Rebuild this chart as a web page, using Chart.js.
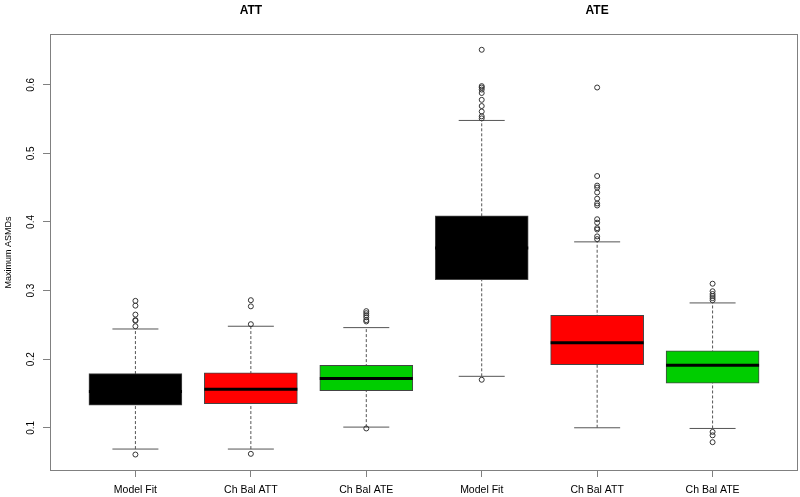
<!DOCTYPE html>
<html>
<head>
<meta charset="utf-8">
<script src="https://cdn.jsdelivr.net/npm/chart.js@4.4.0/dist/chart.umd.min.js"></script>
<style>
  body { margin: 0; background: #fff; }
  canvas { display: block; }
</style>
</head>
<body>
<canvas id="boxChart" width="800" height="497"></canvas>
<script>
// data
const categories = ["Model Fit", "Ch Bal ATT", "Ch Bal ATE", "Model Fit", "Ch Bal ATT", "Ch Bal ATE"];
const boxPos = [1, 2, 3, 4, 5, 6];
const groupTitles = ["ATT", "ATE"];
const groupPos = [2, 5];
const yTicks = [0.1, 0.2, 0.3, 0.4, 0.5, 0.6];

const q1 = [0.133, 0.135, 0.154, 0.316, 0.192, 0.165];
const median = [0.153, 0.156, 0.172, 0.362, 0.224, 0.191];
const q3 = [0.179, 0.180, 0.191, 0.409, 0.264, 0.212];
const whiskerLow = [0.069, 0.069, 0.101, 0.175, 0.100, 0.099];
const whiskerHigh = [0.244, 0.248, 0.246, 0.548, 0.371, 0.282];
const outliers = [
  [0.285, 0.278, 0.265, 0.257, 0.256, 0.248, 0.061],
  [0.286, 0.277, 0.251, 0.062],
  [0.270, 0.267, 0.264, 0.261, 0.257, 0.255, 0.099],
  [0.651, 0.598, 0.596, 0.593, 0.588, 0.578, 0.569, 0.561, 0.554, 0.551, 0.170],
  [0.596, 0.467, 0.453, 0.450, 0.443, 0.434, 0.427, 0.424, 0.404, 0.399, 0.391, 0.389, 0.379, 0.375],
  [0.310, 0.299, 0.295, 0.292, 0.289, 0.286, 0.094, 0.089, 0.079],
];

const boxColors = ["#000000", "#ff0000", "#00cd00", "#000000", "#ff0000", "#00cd00"];
const police = "'Liberation Sans', Arial, sans-serif";
const gris = "#808080";

// build the datasets
const boites = boxPos.map((x, i) => ({ x: x, y: [q1[i], q3[i]] }));
const medianes = boxPos.map((x, i) => ({ x: x, y: median[i] }));
const moustaches = [];
const extremites = [];
for (var i = 0; i < boxPos.length; i++) {
  moustaches.push({ x: boxPos[i], y: whiskerLow[i] });
  moustaches.push({ x: boxPos[i], y: whiskerHigh[i] });
  moustaches.push({ x: boxPos[i], y: null });
  extremites.push({ x: boxPos[i], y: whiskerLow[i] });
  extremites.push({ x: boxPos[i], y: whiskerHigh[i] });
}
const pointsAberrants = [];
for (var i = 0; i < outliers.length; i++) {
  for (var j = 0; j < outliers[i].length; j++) {
    pointsAberrants.push({ x: boxPos[i], y: outliers[i][j] });
  }
}

// plot frame + group titles
const cadre = {
  id: "cadre",
  afterDraw(chart) {
    const ctx = chart.ctx;
    const a = chart.chartArea;
    ctx.save();
    ctx.strokeStyle = gris;
    ctx.lineWidth = 1;
    ctx.strokeRect(a.left + 0.5, a.top + 0.5, a.right - a.left - 1, a.bottom - a.top - 1);
    ctx.fillStyle = "#000";
    ctx.font = "bold 12px " + police;
    ctx.textAlign = "center";
    ctx.textBaseline = "middle";
    for (var k = 0; k < groupTitles.length; k++) {
      ctx.fillText(groupTitles[k], chart.scales.x.getPixelForValue(groupPos[k]), 11);
    }
    ctx.restore();
  },
};

function sansMarges(s) {
  s.paddingTop = 0;
  s.paddingBottom = 0;
  s.paddingLeft = 0;
  s.paddingRight = 0;
}

const configuration = {
  type: "bar",
  data: {
    datasets: [
      {
        type: "scatter",
        label: "outliers",
        data: pointsAberrants,
        pointStyle: "circle",
        pointRadius: 2.5,
        pointBorderWidth: 1,
        pointBorderColor: "#333",
        pointBackgroundColor: "rgba(0,0,0,0)",
        order: 0,
      },
      {
        type: "scatter",
        label: "medians",
        data: medianes,
        pointStyle: "line",
        pointRadius: 46.5,
        pointBorderWidth: 3,
        pointBorderColor: "#000",
        order: 1,
      },
      {
        label: "boxes",
        data: boites,
        backgroundColor: boxColors,
        borderColor: "#444",
        borderWidth: 1,
        borderSkipped: false,
        barThickness: 93,
        order: 2,
      },
      {
        type: "scatter",
        label: "caps",
        data: extremites,
        pointStyle: "line",
        pointRadius: 23,
        pointBorderWidth: 1,
        pointBorderColor: "#555",
        order: 3,
      },
      {
        type: "line",
        label: "whiskers",
        data: moustaches,
        borderColor: "#555",
        borderWidth: 1,
        borderDash: [3, 2],
        pointRadius: 0,
        spanGaps: false,
        order: 4,
      },
    ],
  },
  options: {
    responsive: false,
    animation: false,
    layout: { autoPadding: false, padding: { top: 34, right: 2, left: 0, bottom: 0 } },
    plugins: { legend: { display: false }, tooltip: { enabled: false } },
    scales: {
      x: {
        type: "linear",
        min: 0.26,
        max: 6.74,
        offset: false,
        afterBuildTicks: (s) => { s.ticks = boxPos.map((v) => ({ value: v })); },
        afterFit: (s) => { s.height = 26; sansMarges(s); },
        ticks: {
          callback: (v, idx) => categories[idx],
          autoSkip: false,
          maxRotation: 0,
          padding: 7,
          color: "#000",
          font: { family: police, size: 10.5 },
        },
        grid: { offset: false, drawOnChartArea: false, tickLength: 6, color: gris },
        border: { display: false },
      },
      y: {
        type: "linear",
        min: 0.037,
        max: 0.674,
        afterBuildTicks: (s) => { s.ticks = yTicks.map((v) => ({ value: v })); },
        afterFit: (s) => { s.width = 50; sansMarges(s); },
        ticks: {
          callback: (v) => v.toFixed(1),
          minRotation: 90,
          maxRotation: 90,
          crossAlign: "center",
          padding: 5,
          color: "#000",
          font: { family: police, size: 10 },
        },
        grid: { drawOnChartArea: false, tickLength: 7, color: gris },
        border: { display: false },
        title: {
          display: true,
          text: "Maximum ASMDs",
          color: "#000",
          font: { family: police, size: 9 },
          padding: { top: 3, bottom: 0 },
        },
      },
    },
  },
  plugins: [cadre],
};

const graphique = document.getElementById("boxChart");
const chart = new Chart(graphique, configuration);
</script>
</body>
</html>
